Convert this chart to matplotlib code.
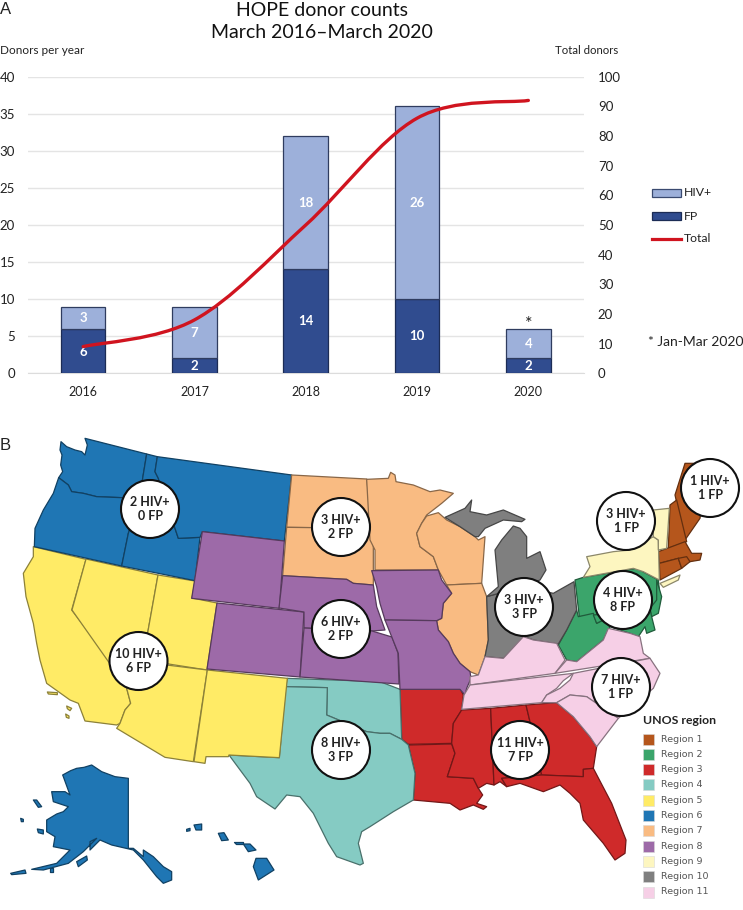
import numpy as np
import matplotlib
matplotlib.use("Agg")
import matplotlib.pyplot as plt
from matplotlib.patches import Polygon, Circle, Rectangle, PathPatch
from matplotlib.path import Path
from matplotlib.colors import to_rgb

# ---------- Panel A data ----------
years = ["2016", "2017", "2018", "2019", "2020"]
fp_counts = [6, 2, 14, 10, 2]
hiv_counts = [3, 7, 18, 26, 4]
total_running = [9, 18, 50, 86, 92]
left_ticks = [0, 5, 10, 15, 20, 25, 30, 35, 40]
right_ticks = [0, 10, 20, 30, 40, 50, 60, 70, 80, 90, 100]

# ---------- Panel B data ----------
region_names = [f"Region {i}" for i in range(1, 12)]
region_colors = ["#B5561C", "#3BA56B", "#CF2A2A", "#85CBC3", "#FFEB66", "#1F76B4",
                 "#F9BB82", "#9D6AA8", "#FDF6C0", "#7F7F7F", "#F6CFE6"]
callouts = [(150, 509, "2 HIV+\n0 FP"), (341, 527, "3 HIV+\n2 FP"), (341, 629, "6 HIV+\n2 FP"),
            (138.5, 661, "10 HIV+\n6 FP"), (341, 750, "8 HIV+\n3 FP"), (520, 750, "11 HIV+\n7 FP"),
            (524, 607, "3 HIV+\n3 FP"), (626, 521, "3 HIV+\n1 FP"), (710, 488, "1 HIV+\n1 FP"),
            (623, 600, "4 HIV+\n8 FP"), (621, 687, "7 HIV+\n1 FP")]


def z1(p): return [(x / 3, 430 + y / 3) for x, y in p]
def z2(p): return [(370 + x / 3, 440 + y / 3) for x, y in p]
def z3(p): return [(x / 3, 660 + y / 3) for x, y in p]
def z4(p): return [(370 + x / 3, 680 + y / 3) for x, y in p]


# State outlines
WA = z1([(183,35),(180,60),(186,75),(182,105),(188,125),(176,143),(205,165),(215,185),(250,190),(290,200),(365,203),(420,205),(428,145),(440,72),(255,25),(262,45),(255,75),(245,65),(225,60),(200,50)])
OR = z1([(176,143),(205,165),(215,185),(250,190),(290,200),(365,203),(420,205),(385,310),(365,408),(103,350),(105,295),(130,240),(160,190)])
ID = z1([(440,72),(472,80),(465,125),(475,145),(490,200),(525,295),(535,325),(600,322),(585,452),(365,408),(385,310),(420,205),(428,145)])
MT = z1([(472,80),(875,135),(853,333),(607,305),(600,322),(535,325),(525,295),(490,200),(475,145),(465,125)])
ND = z1([(875,135),(1100,147),(1108,215),(1115,295),(860,292)])
SD = z1([(860,292),(1115,295),(1120,320),(1120,465),(1060,460),(1040,448),(848,437)])
MN = z2([(-10,118),(55,115),(62,97),(75,105),(78,125),(130,135),(180,155),(210,150),(250,160),(215,190),(170,225),(155,250),(140,280),(150,320),(190,350),(205,390),(15,390),(15,330),(0,300)])
IA = z2([(5,392),(205,390),(215,420),(245,460),(220,490),(215,535),(200,542),(45,540),(30,490),(20,440)])
WI = z2([(170,228),(205,218),(230,240),(270,260),(315,290),(325,300),(345,290),(335,430),(230,435),(205,390),(190,350),(150,320),(140,280),(155,250)])
IL = z2([(230,435),(335,430),(350,470),(355,600),(345,650),(325,705),(300,695),(270,670),(250,640),(235,605),(205,570),(200,542),(215,535),(220,490),(245,460)])
MO = z2([(45,540),(200,542),(205,570),(235,605),(250,640),(270,670),(300,695),(303,715),(290,745),(285,765),(270,748),(90,748),(85,640),(65,590)])
KS = [(304,628),(372,631),(392,637),(398,653),(399,684),(300,677)]
NE = z1([(848,437),(1040,448),(1060,460),(1120,465)]) + z2([(20,500),(45,570)]) + [(372,631),(304,628),(304,612),(279,608)]
WY = z1([(607,305),(853,333),(838,535),(575,505)])
CO = [(217,603),(304,612),(300,677),(207,669)]
UT = [(158,575),(195,581),(192,598),(217,603),(207,670),(143,660),(148,631)]
NV = [(86,559),(158,575),(148,631),(143,660),(131,660),(127,688),(72,610)]
AZ = z3([(380,85),(392,130),(375,150),(360,190),(350,205),(495,292),(580,305),(622,30),(500,15),(430,5),(395,0)])
CA = z1([(100,350),(258,388),(215,540),(330,690)]) + z3([(380,85),(392,130),(375,150),(360,190),(350,195),(255,183),(235,130),(210,120),(140,70),(120,0)]) + z1([(110,640),(100,580),(78,500),(70,430),(100,380)])
NM = z3([(622,30),(862,55),(838,293),(687,285),(685,290),(618,290),(615,310),(582,305)])
TX = z3([(687,285),(838,293),(857,80),(982,83),(980,165),(1040,190),(1100,215)]) + z4([(30,160),(60,160),(95,178),(115,195),(135,280),(130,360),(70,395),(0,440)]) + z3([(1085,515),(1075,550),(1090,610),(1080,615),(1010,590),(985,550),(940,460),(900,410),(860,405),(825,447),(770,410),(750,370)])
OK = z3([(862,55),(1140,65)]) + z4([(90,28),(95,178),(60,160),(30,160)]) + z3([(1100,215),(1040,190),(980,165),(982,83),(857,80)])
AR = z4([(90,28),(270,25),(280,45),(275,90),(250,130),(245,190),(115,193),(95,178)])
LA = z4([(115,195),(245,192),(255,220),(232,290),(310,295),(325,325),(338,345),(320,370),(350,380),(340,388),(310,375),(270,390),(240,370),(130,360),(135,280)])
MS = z4([(275,90),(362,85),(372,315),(350,310),(325,325),(310,295),(232,290),(255,220),(245,190),(250,130)])
AL = z4([(362,85),(468,75),(480,125),(515,285),(395,295),(410,320),(390,305),(372,315)])
GA = z4([(468,75),(560,68),(610,110),(660,170),(680,200),(670,265),(640,268),(640,290),(515,285),(480,125)])
FL = z4([(515,285),(640,290),(640,268),(670,265),(725,370),(768,480),(765,520),(735,540),(700,490),(640,420),(630,370),(600,340),(570,315),(520,335),(450,310),(410,320),(395,295)])
TN = z2([(300,735),(610,700),(580,722),(560,745)]) + z4([(530,45),(515,68),(275,88),(282,45)])
KY = z2([(300,710),(325,705),(345,650),(400,655),(460,590),(490,600),(560,610),(585,660),(555,700),(300,735)])
VA = z2([(555,700),(590,660),(620,665),(700,600),(715,565),(780,580),(810,590),(820,640),(840,655)])
NC = z2([(610,700),(840,655),(870,700),(850,745)]) + z4([(745,115),(650,50),(600,45),(560,68),(515,68),(530,45),(570,25),(600,0)])
SC = z4([(560,68),(600,45),(650,50),(745,115),(680,200),(660,170),(610,110)])
IN = z2([(350,470),(460,440),(465,590),(400,655),(345,650),(355,600)])
OH = z2([(460,440),(550,460),(612,425),(620,510),(590,570),(565,612),(490,600),(465,590)])
MI_L = z2([(350,470),(385,440),(375,330),(395,300),(430,258),(450,265),(470,290),(470,355),(510,335),(528,390),(510,420),(460,440)])
MI_U = z2([(225,232),(285,205),(305,180),(300,215),(350,225),(400,210),(465,238),(455,245),(400,240),(345,265),(325,290),(315,290),(270,260)])
NY = z2([(640,412),(660,380),(650,350),(730,335),(780,330),(850,290),(865,300),(868,420),(820,395),(790,385)])
LI = z2([(870,430),(930,405),(925,420),(880,442)])
VT = z2([(850,210),(898,205),(890,325),(865,330),(865,300),(850,290)])
PA = z2([(615,420),(640,412),(800,385),(865,420),(870,470),(860,500),(840,515),(628,530)])
WV = z2([(625,530),(670,520),(680,550),(700,540),(720,560),(700,600),(620,665),(590,660),(565,615),(590,570),(620,510)])
NJ = z2([(860,420),(875,470),(865,520),(845,530),(840,505),(860,480)])
MD = z2([(670,525),(840,510),(855,570),(830,580),(825,560),(805,590),(780,580),(720,560),(700,540),(680,550)])
ME = z2([(945,70),(975,70),(1000,150),(990,235),(945,300),(915,165)])
NH = z2([(900,195),(920,180),(950,305),(895,325)])
MA = z2([(865,335),(945,305),(965,340),(995,340),(990,360),(960,365),(925,355),(868,370)])
CT = z2([(868,370),(925,355),(935,385),(870,420)])
RI = z2([(925,355),(950,350),(960,365),(935,385)])
AK = z3([(188,345),(212,332),(230,325),(252,322),(275,315),(305,335),(345,350),(385,355),(385,565),(400,565),(430,590),(430,570),(460,590),(490,620),(515,635),(515,660),(490,670),(470,650),(430,600),(400,570),(335,555),(300,540),(270,570),(270,545),(290,535),(250,575),(205,610),(130,630),(95,628),(170,610),(210,570),(160,560),(165,530),(140,515),(140,480),(170,462),(190,455),(205,440),(160,425),(155,395),(195,395),(210,405),(190,350)])
AK_ISL = [z3(s) for s in ([(100,420),(110,420),(125,440),(115,442)], [(62,475),(70,478),(70,485),(64,485)], [(112,507),(130,510),(130,522),(115,518)],
                          [(32,640),(75,630),(78,640),(35,644)], [(230,605),(260,588),(262,600),(235,620)], [(150,625),(160,625),(160,635),(150,635)])]
HI = [z3(s) for s in ([(768,595),(800,595),(822,630),(775,660),(760,620)], [(655,520),(672,518),(685,540),(665,542)], [(730,552),(750,552),(768,570),(745,575)],
                      [(702,545),(730,545),(730,552),(708,552)], [(582,495),(605,492),(605,510),(588,510)], [(560,508),(570,505),(570,512),(560,514)])]
CA_ISL = [z3(s) for s in ([(142,96),(172,98),(172,104),(145,102)], [(200,138),(215,145),(210,152),(202,146)], [(197,162),(207,168),(207,175),(199,172)])]

region_shapes = {
    1: [ME, NH, MA, CT, RI], 2: [PA, WV, NJ, MD], 3: [AR, LA, MS, AL, GA, FL], 4: [OK, TX],
    5: [CA, NV, UT, AZ, NM] + CA_ISL, 6: [WA, OR, ID, MT, AK] + AK_ISL + HI, 7: [ND, SD, MN, WI, IL],
    8: [WY, CO, NE, KS, IA, MO], 9: [NY, LI, VT], 10: [IN, OH, MI_L, MI_U], 11: [KY, TN, VA, NC, SC],
}

plt.rcParams['font.family'] = ['Lato', 'DejaVu Sans']
fig = plt.figure(figsize=(7.43, 9.10), dpi=100, facecolor="white")
W, H = 743, 910


def axes_px(l, t, r, b):
    return [l / W, 1 - b / H, (r - l) / W, (b - t) / H]


# ---------- overlay in pixel coordinates: map, legends, titles ----------
ov = fig.add_axes([0, 0, 1, 1])
ov.set_xlim(0, W)
ov.set_ylim(H, 0)
ov.axis("off")

for reg, shapes in region_shapes.items():
    col = region_colors[reg - 1]
    edge = tuple(c * 0.55 for c in to_rgb(col))
    for s in shapes:
        ov.add_patch(Polygon(s, closed=True, facecolor=col, edgecolor=edge, lw=0.9, joinstyle="round"))

for cx, cy, txt in callouts:
    ov.add_patch(Circle((cx, cy), 29, facecolor="white", edgecolor="#111111", lw=1.5, zorder=5))
    ov.text(cx, cy, txt, ha="center", va="center", fontsize=9, fontweight="bold", color="#222222",
            linespacing=1.25, zorder=6)

ov.text(643, 721, "UNOS region", fontsize=8.8, fontweight="bold", color="#222222", va="center")
ly = np.linspace(739, 892, len(region_names))
for y, name, col in zip(ly, region_names, region_colors):
    ov.add_patch(Rectangle((643, y - 5.5), 11, 11, facecolor=col, edgecolor="#d8d8d8", lw=0.4))
    ov.text(661, y, name, fontsize=6.8, color="#555555", va="center", family=["DejaVu Sans"])

ov.text(0, 9, "A", fontsize=12, va="center", family=["Liberation Sans"], color="#222222")
ov.text(0, 445, "B", fontsize=12, va="center", family=["Liberation Sans"], color="#222222")
ov.text(322, 10, "HOPE donor counts", fontsize=14, ha="center", va="center", color="#111111")
ov.text(322, 33, "March 2016\u2013March 2020", fontsize=14, ha="center", va="center", color="#111111")
ov.text(0, 51, "Donors per year", fontsize=8.5, va="center", color="#222222")
ov.text(618, 51, "Total donors", fontsize=8.2, va="center", ha="right", color="#222222")

# chart legend
ov.add_patch(Rectangle((652, 189), 29, 8, facecolor="#9DB0DA", edgecolor="#3a4a70", lw=0.9))
ov.add_patch(Rectangle((652, 212), 29, 8, facecolor="#304C8F", edgecolor="#1c2c55", lw=0.9))
ov.plot([652, 681], [239, 239], color="#D0141F", lw=2.3)
ov.text(684, 193, "HIV+", fontsize=8.8, va="center", color="#222222")
ov.text(684, 216, "FP", fontsize=8.8, va="center", color="#222222")
ov.text(684, 239, "Total", fontsize=8.8, va="center", color="#222222")
ov.text(648, 342, "* Jan-Mar 2020", fontsize=10, va="center", color="#222222")

# ---------- chart A ----------
ax = fig.add_axes(axes_px(27.5, 76.7, 584, 373.3))
ax.patch.set_alpha(0)
x = np.arange(len(years))
ax.bar(x, fp_counts, width=0.4, color="#304C8F", edgecolor="#1c2c55", lw=0.9, zorder=3)
ax.bar(x, hiv_counts, width=0.4, bottom=fp_counts, color="#9DB0DA", edgecolor="#2f3c5f", lw=0.9, zorder=3)
ax.set_xlim(-0.5, 4.5)
ax.set_ylim(0, 40)
ax.set_yticks(left_ticks)
ax.set_xticks(x)
ax.set_xticklabels(years)
ax.yaxis.grid(True, color="#e4e4e4", lw=1)
ax.set_axisbelow(True)
ax.tick_params(axis="both", length=0, labelsize=9, labelcolor="#222222")
ax.tick_params(axis="y", pad=9, labelsize=9.5)
ax.tick_params(axis="x", pad=9)
for s in ax.spines.values():
    s.set_visible(False)
ax.spines["bottom"].set_visible(True)
ax.spines["bottom"].set_color("#dcdcdc")

for i, (f, h) in enumerate(zip(fp_counts, hiv_counts)):
    fy = f / 2 if i else 2.9
    ax.text(i, fy, str(f), ha="center", va="center", color="white", fontweight="bold", fontsize=9.5, zorder=6)
    ax.text(i, f + h / 2, str(h), ha="center", va="center", color="white", fontweight="bold", fontsize=9.5, zorder=6)
ax.text(4, fp_counts[4] + hiv_counts[4] + 0.7, "*", ha="center", va="center", fontsize=13, color="#222222")

ax2 = ax.twinx()
ax2.patch.set_alpha(0)
ax2.set_ylim(0, 100)
ax2.set_yticks(right_ticks)
ax2.tick_params(axis="y", length=0, pad=10, labelsize=9.5, labelcolor="#222222")
for s in ax2.spines.values():
    s.set_visible(False)

# Smoothed line like the spreadsheet's, as Bezier segments through the yearly totals
pts = np.column_stack([x, total_running]).astype(float)
verts = [tuple(pts[0])]
codes = [Path.MOVETO]
for i in range(len(pts) - 1):
    p0 = pts[max(i - 1, 0)]
    p1, p2 = pts[i], pts[i + 1]
    p3 = pts[min(i + 2, len(pts) - 1)]
    verts += [tuple(p1 + (p2 - p0) / 6), tuple(p2 - (p3 - p1) / 6), tuple(p2)]
    codes += [Path.CURVE4] * 3
ax2.add_patch(PathPatch(Path(verts, codes), facecolor="none", edgecolor="#D0141F", lw=2.4, capstyle="round", zorder=5))

fig.savefig("out.png", dpi=100, facecolor="white")
